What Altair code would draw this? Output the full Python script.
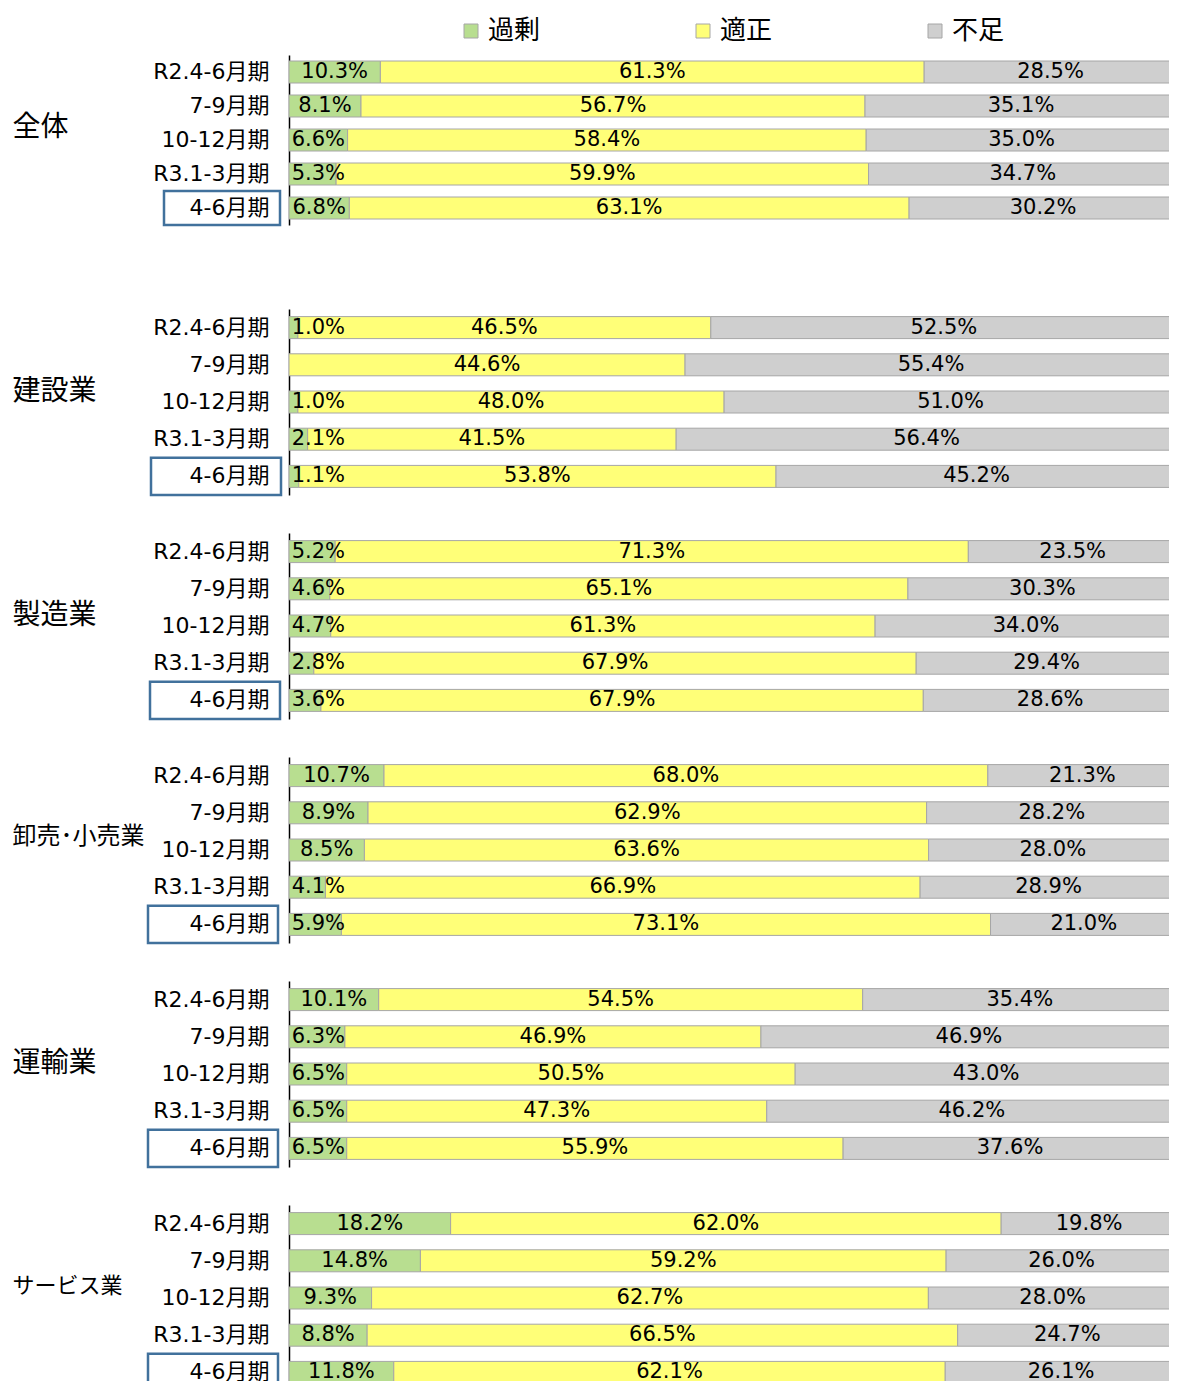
import altair as alt
import pandas as pd

# ---------------- data ----------------
groups = ["全体", "建設業", "製造業", "卸売･小売業", "運輸業", "サービス業"]
periods = ["R2.4-6月期", "7-9月期", "10-12月期", "R3.1-3月期", "4-6月期"]
cats = ["過剰", "適正", "不足"]

kajo = [10.3, 8.1, 6.6, 5.3, 6.8,
        1.0, 0.0, 1.0, 2.1, 1.1,
        5.2, 4.6, 4.7, 2.8, 3.6,
        10.7, 8.9, 8.5, 4.1, 5.9,
        10.1, 6.3, 6.5, 6.5, 6.5,
        18.2, 14.8, 9.3, 8.8, 11.8]
tekisei = [61.3, 56.7, 58.4, 59.9, 63.1,
           46.5, 44.6, 48.0, 41.5, 53.8,
           71.3, 65.1, 61.3, 67.9, 67.9,
           68.0, 62.9, 63.6, 66.9, 73.1,
           54.5, 46.9, 50.5, 47.3, 55.9,
           62.0, 59.2, 62.7, 66.5, 62.1]
fusoku = [28.5, 35.1, 35.0, 34.7, 30.2,
          52.5, 55.4, 51.0, 56.4, 45.2,
          23.5, 30.3, 34.0, 29.4, 28.6,
          21.3, 28.2, 28.0, 28.9, 21.0,
          35.4, 46.9, 43.0, 46.2, 37.6,
          19.8, 26.0, 28.0, 24.7, 26.1]

rows = []
for gi, g in enumerate(groups):
    for pi, p in enumerate(periods):
        idx = gi * 5 + pi
        for ci, (c, arr) in enumerate(zip(cats, [kajo, tekisei, fusoku])):
            rows.append(dict(group=g, period=p, cat=c, ord=ci, value=arr[idx]))
df = pd.DataFrame(rows)

# ---------------- styles ----------------
colors = ["#B8DE90", "#FFFF78", "#CFCFCF"]
FONT_NUM = "DejaVu Sans, Noto Sans CJK JP"
FONT_JP = "Noto Sans CJK JP"
PLOT_W = 880            # visible plot width (page edge)
FULL_W = 888            # width that 100% would take (bars run off the page edge)
heights = [170, 186, 186, 186, 186, 186]
title_y = [72, 82, 82, 79, 82, 80]
title_size = [28, 28, 28, 24, 28, 22]
box_x = [(-125, -9), (-138, -8), (-139, -9), (-141, -11), (-141, -11), (-141, -11)]


def panel(gi):
    g = groups[gi]
    d = df[df.group == g]
    yenc = alt.Y(
        "period:N",
        sort=periods,
        scale=alt.Scale(paddingInner=0, paddingOuter=0),
        axis=alt.Axis(
            title=g,
            titleAngle=0,
            titleAlign="left",
            titleBaseline="middle",
            titleX=-277,
            titleY=title_y[gi],
            titleFont=FONT_JP,
            titleFontSize=title_size[gi],
            titleFontWeight="normal",
            titleColor="black",
            labelFont=FONT_NUM,
            labelFontSize=22,
            labelColor="black",
            labelPadding=20,
            ticks=False,
            tickSize=0,
            domainColor="black",
            domainWidth=1.5,
            grid=False,
        ),
    )
    xscale = alt.Scale(domain=[0, PLOT_W / FULL_W])
    base = alt.Chart(d)
    if gi == 0:
        color = alt.Color(
            "cat:N",
            scale=alt.Scale(domain=cats, range=colors),
            legend=alt.Legend(
                orient="none",
                legendX=169,
                legendY=-37,
                direction="horizontal",
                title=None,
                symbolType="square",
                symbolSize=196,
                symbolStrokeColor="#A6A6A6",
                symbolStrokeWidth=1,
                labelFont=FONT_JP,
                labelFontSize=26,
                labelColor="black",
                labelOffset=4,
                columnPadding=149,
                padding=0,
            ),
        )
    else:
        color = alt.Color("cat:N", scale=alt.Scale(domain=cats, range=colors), legend=None)

    bars = base.mark_bar(size=22, stroke="#A6A6A6", strokeWidth=1, clip=True).encode(
        y=yenc,
        x=alt.X("value:Q", stack="normalize", scale=xscale, axis=None),
        color=color,
        order=alt.Order("ord:Q"),
    )
    labels = (
        base.transform_joinaggregate(total="sum(value)", groupby=["period"])
        .transform_window(cum="sum(value)", sort=[alt.SortField("ord")],
                          groupby=["period"], frame=[None, 0])
        .transform_calculate(mid="(datum.cum - datum.value/2)/datum.total")
        .transform_calculate(
            lx="datum.cat == '過剰' ? max(datum.mid, 0.033) : datum.mid",
            label="format(datum.value, '.1f') + '%'",
        )
        .transform_filter("datum.value > 0")
        .mark_text(fontSize=21, font=FONT_NUM, color="black", baseline="middle")
        .encode(
            y=yenc,
            x=alt.X("lx:Q", scale=xscale, axis=None),
            text="label:N",
        )
    )
    box = (
        base.transform_filter((alt.datum.period == periods[-1]) & (alt.datum.ord == 0))
        .mark_rect(fillOpacity=0, stroke="#41719C", strokeWidth=2.5)
        .encode(y=yenc, x=alt.value(box_x[gi][0]), x2=alt.value(box_x[gi][1]))
    )
    return alt.layer(bars, labels, box).properties(width=PLOT_W, height=heights[gi])


spacer = (
    alt.Chart(pd.DataFrame({"a": [0]}))
    .mark_rule(strokeOpacity=0)
    .encode(x=alt.value(0), x2=alt.value(1), y=alt.value(0))
    .properties(width=PLOT_W, height=10)
)

panels = [panel(i) for i in range(len(groups))]
chart = (
    alt.vconcat(panels[0], spacer, *panels[1:], spacing=36)
    .resolve_scale(color="independent", x="independent", y="independent")
    .resolve_legend(color="independent")
    .configure_view(stroke=None)
    .properties(padding={"left": 4, "top": 10, "right": 0, "bottom": 0}, background="white")
)

chart.save("out.html", embed_options={"renderer": "svg", "actions": False})
